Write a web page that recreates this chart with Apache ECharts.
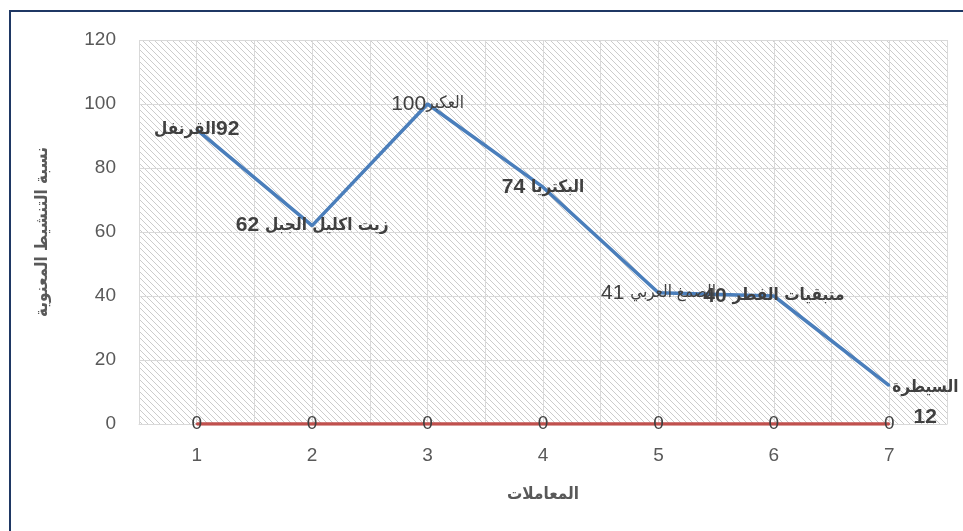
<!DOCTYPE html>
<html>
<head>
<meta charset="utf-8">
<script src="https://cdn.jsdelivr.net/npm/echarts@6/dist/echarts.min.js"></script>
<style>
  html, body { margin: 0; padding: 0; background: #ffffff; }
  #chart { width: 963px; height: 531px; }
</style>
</head>
<body>
<div id="chart"></div>
<script>
// Treatments (x) and activation percentages
const treatments = [1, 2, 3, 4, 5, 6, 7];
const treatmentNames = ["القرنفل", "زيت اكليل الجبل", "العكبر", "البكتريا", "الصمغ العربي", "متبقيات الفطر", "السيطرة"];
const activation = [92, 62, 100, 74, 41, 40, 12];
const controlLine = [0, 0, 0, 0, 0, 0, 0];
const yTicks = [0, 20, 40, 60, 80, 100, 120];

const xTitle = "المعاملات";
const yTitle = "نسبة التنشيط المعنوية";

// Labels drawn in regular weight (the rest are bold)
const regularLabels = [2, 4];

const arabicFont = 'DejaVu Sans Condensed, DejaVu Sans, sans-serif';
const latinFont = 'Liberation Sans, Arial, sans-serif';

// Diagonal hatch tile for the plot background
function hatchTile() {
  const c = document.createElement('canvas');
  c.width = 6; c.height = 6;
  const g = c.getContext('2d');
  g.fillStyle = '#ffffff';
  g.fillRect(0, 0, 6, 6);
  g.fillStyle = '#cccccc';
  for (let i = 0; i < 6; i++) g.fillRect(i, i, 1, 1);
  return c;
}

// Each label is split into a number token and a name token, laid out left to right
function labelText(i) {
  const name = treatmentNames[i], v = activation[i];
  const reg = regularLabels.includes(i);
  const n = reg ? 'numR' : 'num';
  const a = reg ? 'arR' : 'ar';
  if (i === 0) return `{${a}|${name}}{${n}|${v}}`;
  if (i === 2) return `{${n}|${v}}{${a}|${name}}`;
  if (i === treatments.length - 1) return `{${a}|${name}}\n{${n}|${v}}`;
  return `{${n}|${v} }{${a}|${name}}`;
}

const richStyles = {
  num:  { fontFamily: latinFont, fontSize: 21, fontWeight: 'bold', color: '#404040', verticalAlign: 'middle' },
  numR: { fontFamily: latinFont, fontSize: 21, fontWeight: 'normal', color: '#404040', verticalAlign: 'middle' },
  ar:   { fontFamily: arabicFont, fontSize: 17, fontWeight: 'bold', color: '#404040', verticalAlign: 'middle' },
  arR:  { fontFamily: arabicFont, fontSize: 17, fontWeight: 'normal', color: '#404040', verticalAlign: 'middle' }
};

const mainData = treatments.map((t, i) => ({
  value: [t, activation[i]],
  label: i === treatments.length - 1 ? { offset: [36, 17], lineHeight: 30, align: 'center' } : {}
}));

const chart = echarts.init(document.getElementById('chart'), null, { renderer: 'canvas' });
chart.setOption({
  animation: false,
  textStyle: { fontFamily: latinFont },
  graphic: [{
    type: 'rect',
    silent: true,
    shape: { x: 10, y: 11, width: 1000, height: 600 },
    style: { fill: 'none', stroke: '#1f3864', lineWidth: 2 }
  }],
  grid: {
    left: 139, right: 16, top: 40, bottom: 107,
    show: true,
    borderWidth: 0,
    backgroundColor: { image: hatchTile(), repeat: 'repeat' }
  },
  xAxis: {
    type: 'value',
    min: 0.5, max: 7.5, interval: 0.5,
    name: xTitle,
    nameLocation: 'middle',
    nameGap: 62,
    nameTextStyle: { fontFamily: arabicFont, fontSize: 17, fontWeight: 'bold', color: '#595959' },
    axisLine: { show: true, lineStyle: { color: '#d9d9d9', width: 1 } },
    axisTick: { show: false },
    axisLabel: {
      fontSize: 19, color: '#595959', margin: 22,
      formatter: v => (Number.isInteger(v) && treatments.includes(v)) ? String(v) : ''
    },
    splitLine: { show: true, lineStyle: { color: '#d9d9d9', width: 1 } }
  },
  yAxis: {
    type: 'value',
    min: yTicks[0], max: yTicks[yTicks.length - 1], interval: yTicks[1] - yTicks[0],
    name: yTitle,
    nameLocation: 'middle',
    nameGap: 88,
    nameRotate: 90,
    nameTextStyle: { fontFamily: arabicFont, fontSize: 17, fontWeight: 'bold', color: '#595959' },
    axisLine: { show: false },
    axisTick: { show: false },
    axisLabel: { fontSize: 19, color: '#595959', margin: 23 },
    splitLine: { show: true, lineStyle: { color: '#d9d9d9', width: 1 } }
  },
  series: [
    {
      type: 'line',
      data: mainData,
      symbol: 'circle',
      symbolSize: 2,
      itemStyle: { color: '#4a7ebb' },
      lineStyle: { color: '#4a7ebb', width: 3.5 },
      label: {
        show: true,
        position: 'inside',
        color: '#404040',
        formatter: p => labelText(p.dataIndex),
        rich: richStyles
      },
      z: 3
    },
    {
      type: 'line',
      data: treatments.map((t, i) => [t, controlLine[i]]),
      symbol: 'circle',
      symbolSize: 2,
      itemStyle: { color: '#c0504d' },
      lineStyle: { color: '#c0504d', width: 3.5 },
      label: {
        show: true,
        position: 'inside',
        fontSize: 19,
        color: '#404040',
        formatter: p => String(p.value[1])
      },
      z: 2
    }
  ]
});
</script>
</body>
</html>
